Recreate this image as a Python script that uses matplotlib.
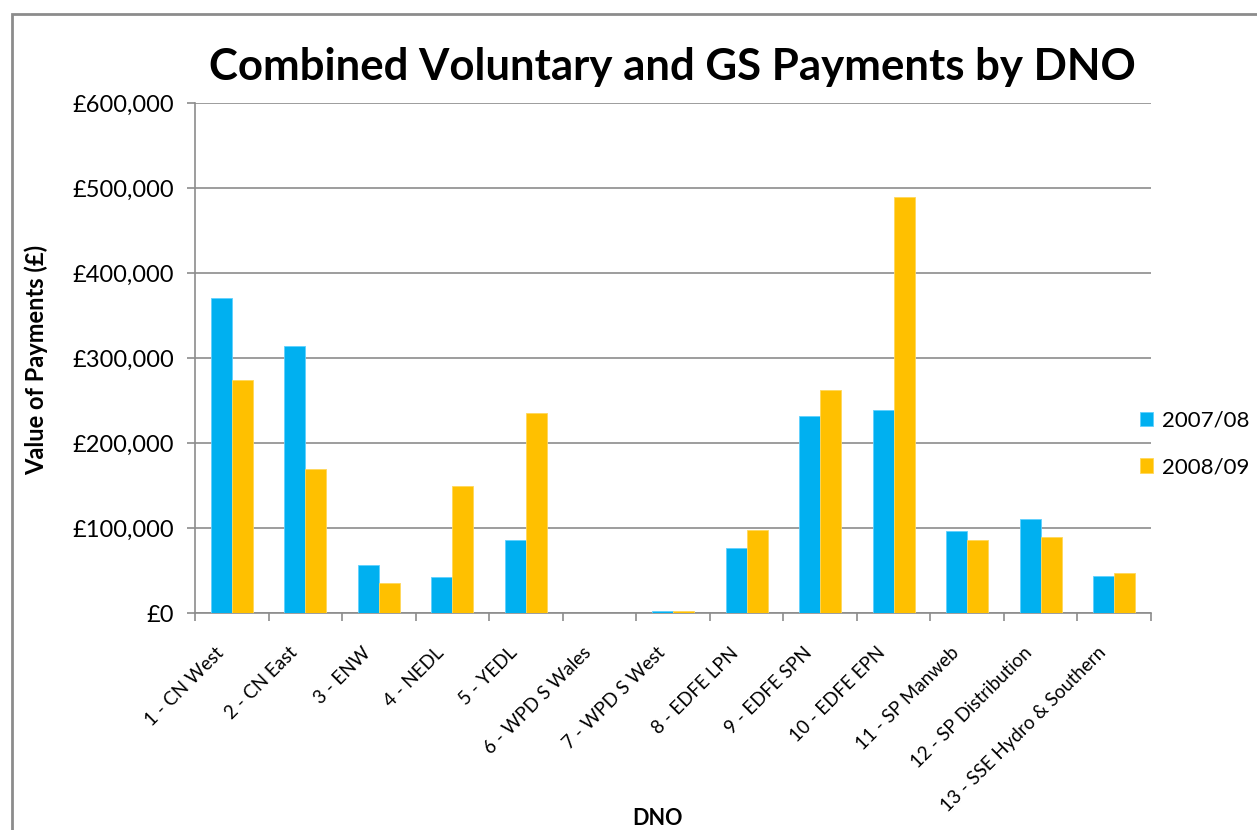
import matplotlib.pyplot as plt
import matplotlib.transforms as mtransforms
import numpy as np
from matplotlib.ticker import FuncFormatter, FixedLocator
from matplotlib.patches import Rectangle

dnos = ['1 - CN West', '2 - CN East', '3 - ENW', '4 - NEDL', '5 - YEDL',
        '6 - WPD S Wales', '7 - WPD S West', '8 - EDFE LPN', '9 - EDFE SPN',
        '10 - EDFE EPN', '11 - SP Manweb', '12 - SP Distribution',
        '13 - SSE Hydro & Southern']
pay_0708 = [370500, 314000, 56000, 42500, 86000, 0, 2000, 77000, 232000,
            239000, 96500, 111000, 44000]
pay_0809 = [274000, 170000, 35000, 150000, 235000, 0, 2000, 98000, 262000,
            490000, 86000, 89000, 47000]
series = ['2007/08', '2008/09']
colours = ['#00B0F0', '#FFC000']

plt.rcParams['font.family'] = ['Lato', 'DejaVu Sans']

fig = plt.figure(figsize=(12.57, 8.3), dpi=100)
ax = fig.add_axes([195/1257, 1-613/830, (1151-195)/1257, 510/830])

# outer chart frame (cut off at right/bottom like the screenshot)
fig.patches.append(Rectangle((12/1257, -0.1), 1.2, 1-14/830+0.1,
                             transform=fig.transFigure, fill=False,
                             edgecolor='#8c8c8c', linewidth=2))

x = np.arange(len(dnos))
w = 1/3.5
ax.bar(x - w/2, pay_0708, w, color=colours[0], edgecolor='#5fd0ff', linewidth=0.6,
       label=series[0], zorder=3)
ax.bar(x + w/2, pay_0809, w, color=colours[1], edgecolor='#ffd75a', linewidth=0.6,
       label=series[1], zorder=3)

ax.set_xlim(-0.5, len(dnos) - 0.5)
ax.set_ylim(0, 600000)
ax.set_yticks(np.arange(0, 600001, 100000))
ax.yaxis.set_major_formatter(FuncFormatter(lambda v, p: '£{:,.0f}'.format(v)))
ax.grid(axis='y', color='#8c8c8c', linewidth=1.2, zorder=0)

ax.set_xticks(x)
ax.set_xticklabels(dnos, rotation=45, ha='right', rotation_mode='anchor', fontsize=13.5)
ax.tick_params(axis='x', length=0, pad=8)
shift = mtransforms.ScaledTranslation(-0.17, -0.2, fig.dpi_scale_trans)
for lab in ax.get_xticklabels():
    lab.set_transform(lab.get_transform() + shift)
ax.xaxis.set_minor_locator(FixedLocator(np.arange(-0.5, len(dnos), 1)))
ax.tick_params(axis='x', which='minor', length=6, width=1.2, color='#8c8c8c')
ax.tick_params(axis='y', length=6, width=1.2, color='#8c8c8c', labelsize=17, pad=9)

for s in ['top', 'right']:
    ax.spines[s].set_visible(False)
for s in ['left', 'bottom']:
    ax.spines[s].set_color('#8c8c8c')
    ax.spines[s].set_linewidth(1.2)

fig.text(672/1257, 1-67/830, 'Combined Voluntary and GS Payments by DNO',
         ha='center', va='center', fontsize=31.5, fontweight='bold')
fig.text(36/1257, 1-360/830, 'Value of Payments (£)', rotation=90,
         ha='center', va='center', fontsize=17, fontweight='bold')
fig.text(657/1257, 1-818/830, 'DNO', ha='center', va='center',
         fontsize=15.5, fontweight='bold')

ax.legend(loc='center left', bbox_to_anchor=(1140/1257, 1-444/830),
          bbox_transform=fig.transFigure, frameon=False, fontsize=16,
          borderpad=0, borderaxespad=0,
          handlelength=0.6, handleheight=0.6, handletextpad=0.4, labelspacing=1.2)

plt.savefig('out.png', dpi=100)
plt.close()
